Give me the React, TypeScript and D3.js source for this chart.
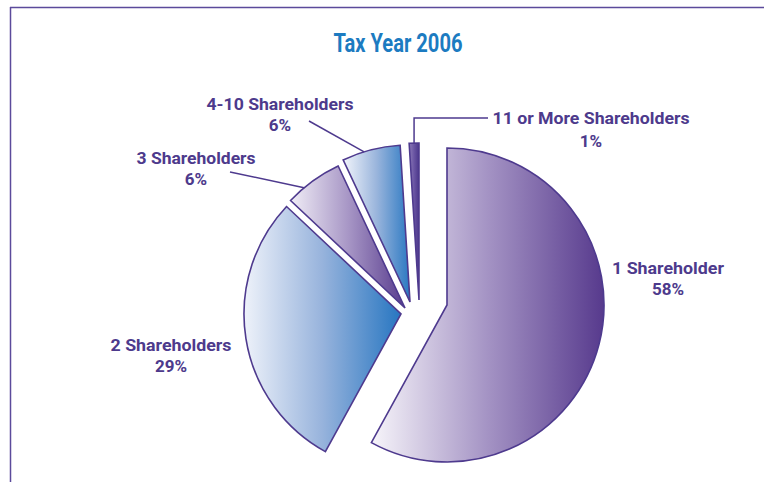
import React from "react";
import * as d3 from "d3";

// ---- data ----
const categories = [
  "1 Shareholder",
  "2 Shareholders",
  "3 Shareholders",
  "4-10 Shareholders",
  "11 or More Shareholders",
];
const values = [58, 29, 6, 6, 1];
const title = "Tax Year 2006";

// ---- layout / style ----
const W = 764;
const H = 482;
const center = { x: 416, y: 304 };
const radius = 157;
// per-slice explode offsets (px)
const sliceOffsets: [number, number][] = [
  [31, 1],
  [-15, 10],
  [-11, 4],
  [-6, -2],
  [3, -4],
];
const gradStops: [string, string, string][] = [
  ["#f7f5fa", "#a493c4", "#573a8d"],
  ["#eef2fa", "#97b3dc", "#2776c1"],
  ["#f0edf6", "#a897c6", "#583c8e"],
  ["#f2f5fb", "#9ab5dc", "#2a78c2"],
  ["#8c7ab8", "#6a55a3", "#4b378a"],
];
const labelColor = "#4d3a8c";
const strokeColor = "#4e3a8e";
const titleColor = "#1c7bc1";
const font = "'Liberation Sans Narrow', 'Arial Narrow', Roboto, sans-serif";

// label anchor: [centerX, baseline1, baseline2, textLength1]
const labelLayout: [number, number, number, number][] = [
  [668, 274, 295, 112],
  [171, 351, 372, 121],
  [196, 164, 185, 119],
  [280, 110, 131, 147],
  [591, 124, 147, 197],
];

export default function App() {
  const pie = d3
    .pie<number>()
    .sort(null)
    .value((d) => d);
  const arcs = pie(values);
  const arcGen = d3.arc<d3.PieArcDatum<number>>().innerRadius(0).outerRadius(radius);

  const vertex = (i: number) => ({
    x: center.x + sliceOffsets[i][0],
    y: center.y + sliceOffsets[i][1],
  });
  const onArc = (i: number, angle: number, r = radius) => {
    const v = vertex(i);
    return [v.x + r * Math.sin(angle), v.y - r * Math.cos(angle)];
  };
  const deg = (a: number) => (a * Math.PI) / 180;

  // leader lines
  const p4 = onArc(3, deg(343));
  const p3 = onArc(2, deg(320));
  const p5 = onArc(4, (arcs[4].startAngle + arcs[4].endAngle) / 2);
  const leader4 = `M309,121L${p4[0]},${p4[1]}`;
  const leader3 = `M230,172L${p3[0]},${p3[1]}`;
  const leader5 = `M${p5[0]},${p5[1]}L${p5[0]},118L488,118`;

  return (
    <svg
      width={W}
      height={H}
      style={{ position: "absolute", left: 0, top: 0, background: "#fff" }}
    >
      <defs>
        {gradStops.map((g, i) => (
          <linearGradient key={i} id={`g${i}`} x1="0" y1="0" x2="1" y2="0">
            <stop offset="0" stopColor={g[0]} />
            <stop offset="0.5" stopColor={g[1]} />
            <stop offset="1" stopColor={g[2]} />
          </linearGradient>
        ))}
      </defs>
      {/* frame */}
      <line x1={10} y1={7.5} x2={W} y2={7.5} stroke="#5b4a9b" strokeWidth={1.5} />
      <line x1={10.5} y1={7} x2={10.5} y2={H} stroke="#5b4a9b" strokeWidth={1.5} />

      <text
        x={398}
        y={52}
        textAnchor="middle"
        fill={titleColor}
        fontFamily={font}
        fontWeight="bold"
        fontSize={25}
        textLength={129}
        lengthAdjust="spacingAndGlyphs"
      >
        {title}
      </text>

      {arcs.map((a, i) => {
        const v = vertex(i);
        return (
          <path
            key={i}
            d={arcGen(a) || ""}
            transform={`translate(${v.x},${v.y})`}
            fill={`url(#g${i})`}
            stroke={strokeColor}
            strokeWidth={1.6}
            strokeLinejoin="miter"
          />
        );
      })}

      <path d={leader4} stroke={strokeColor} strokeWidth={1.5} fill="none" />
      <path d={leader3} stroke={strokeColor} strokeWidth={1.5} fill="none" />
      <path d={leader5} stroke={strokeColor} strokeWidth={1.5} fill="none" />

      {categories.map((c, i) => {
        const [x, b1, b2, tl] = labelLayout[i];
        return (
          <g key={c} fill={labelColor} fontFamily={font} fontWeight="bold" fontSize={17}>
            <text x={x} y={b1} textAnchor="middle" textLength={tl} lengthAdjust="spacingAndGlyphs">
              {c}
            </text>
            <text x={x} y={b2} textAnchor="middle">
              {`${values[i]}%`}
            </text>
          </g>
        );
      })}
    </svg>
  );
}
